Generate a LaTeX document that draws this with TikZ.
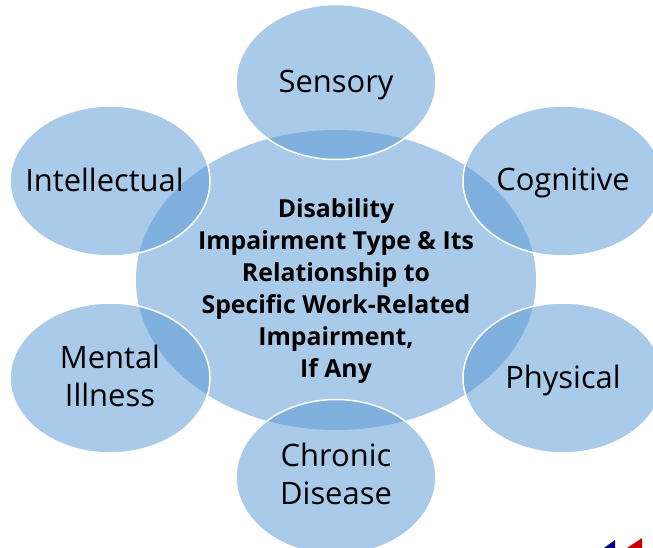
\documentclass[tikz,border=0pt]{standalone}
\usepackage{fontspec}
\setmainfont{Open Sans}
\usetikzlibrary{shapes.geometric}
\definecolor{petalblue}{HTML}{5B9BD5}
\tikzset{
  x=1pt,y=-1pt,
  petal/.style={ellipse,inner sep=0pt,minimum width=200pt,minimum height=150pt,fill=petalblue,fill opacity=.52,text opacity=1,draw=white,line width=1.5pt,draw opacity=1},
  tall/.style={minimum height=155pt},
  hub/.style={ellipse,inner sep=0pt,minimum width=400pt,minimum height=300pt,fill=petalblue,fill opacity=.52},
  petaltext/.style={align=center,inner sep=0pt,font=\fontsize{30.9}{38}\selectfont},
  hubtext/.style={align=center,inner sep=0pt,font=\bfseries\fontsize{24.8}{32}\selectfont}
}
\begin{document}
\begin{tikzpicture}
\clip (0,0) rectangle (653,548);
\useasboundingbox (0,0) rectangle (653,548);
\fill[white] (0,0) rectangle (653,548);
\node[hub] (hub) at (336,280) {};
\node[petal,tall] (sensory) at (336,82) {};
\node[petal] (cognitive) at (563,181) {};
\node[petal] (physical) at (563,378) {};
\node[petal,tall] (chronic) at (336,477) {};
\node[petal] (mental) at (110,378) {};
\node[petal] (intellectual) at (110,181) {};
\node[petaltext] (sensorytext) at (336,85) {Sensory};
\node[petaltext] (cognitivetext) at (563,183) {Cognitive};
\node[petaltext] (physicaltext) at (563,380) {Physical};
\node[petaltext] (chronictext) at (336,474) {Chronic\\Disease};
\node[petaltext] (mentaltext) at (110,376) {Mental\\Illness};
\node[petaltext] (intellectualtext) at (104.5,180) {Intellectual};
\node[hubtext] (title) at (336,291) {Disability\\Impairment Type \& Its\\Relationship to\\Specific Work-Related\\Impairment,\\If Any};
\fill[blue!50!black] (604,548) -- (615,540) -- (615,548) -- cycle;
\fill[red!80!black] (627,548) -- (642,538) -- (642,548) -- cycle;
\end{tikzpicture}
\end{document}
